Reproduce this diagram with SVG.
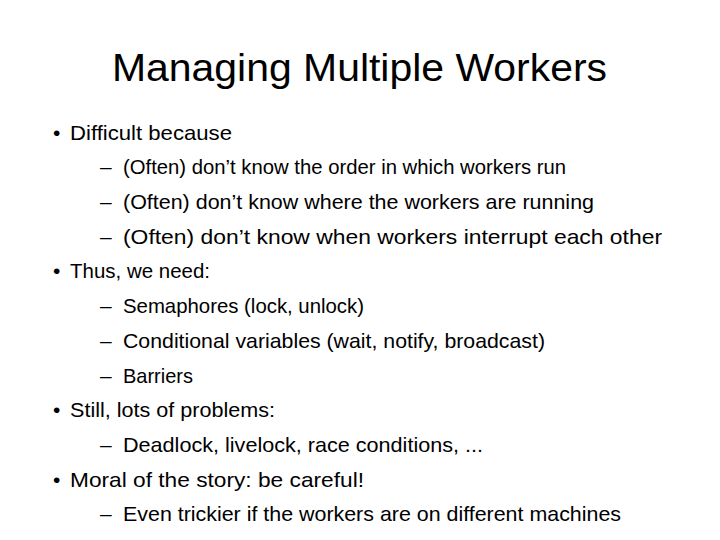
<svg xmlns="http://www.w3.org/2000/svg" width="720" height="540" viewBox="0 0 720 540">
<style>
text{font-family:"Liberation Sans","Open Sans",sans-serif;fill:#000}
.t{font-size:38px}
.b{font-size:21px}
</style>
<rect width="720" height="540" fill="#fff"/>
<text class="t" x="112" y="81" textLength="495" lengthAdjust="spacingAndGlyphs">Managing Multiple Workers</text>
<g class="b">
<text x="53" y="140">•</text><text x="70" y="140" textLength="162" lengthAdjust="spacingAndGlyphs">Difficult because</text>
<text x="100" y="174">–</text><text x="123" y="174" textLength="443" lengthAdjust="spacingAndGlyphs">(Often) don’t know the order in which workers run</text>
<text x="100" y="209">–</text><text x="123" y="209" textLength="471" lengthAdjust="spacingAndGlyphs">(Often) don’t know where the workers are running</text>
<text x="100" y="244">–</text><text x="123" y="244" textLength="539" lengthAdjust="spacingAndGlyphs">(Often) don’t know when workers interrupt each other</text>
<text x="53" y="278">•</text><text x="70" y="278" textLength="140" lengthAdjust="spacingAndGlyphs">Thus, we need:</text>
<text x="100" y="313">–</text><text x="123" y="313" textLength="241" lengthAdjust="spacingAndGlyphs">Semaphores (lock, unlock)</text>
<text x="100" y="348">–</text><text x="123" y="348" textLength="422" lengthAdjust="spacingAndGlyphs">Conditional variables (wait, notify, broadcast)</text>
<text x="100" y="383">–</text><text x="123" y="383" textLength="70" lengthAdjust="spacingAndGlyphs">Barriers</text>
<text x="53" y="417">•</text><text x="70" y="417" textLength="205" lengthAdjust="spacingAndGlyphs">Still, lots of problems:</text>
<text x="100" y="452">–</text><text x="123" y="452" textLength="360" lengthAdjust="spacingAndGlyphs">Deadlock, livelock, race conditions, ...</text>
<text x="53" y="487">•</text><text x="70" y="487" textLength="294" lengthAdjust="spacingAndGlyphs">Moral of the story: be careful!</text>
<text x="100" y="521">–</text><text x="123" y="521" textLength="498" lengthAdjust="spacingAndGlyphs">Even trickier if the workers are on different machines</text>
</g>
</svg>
